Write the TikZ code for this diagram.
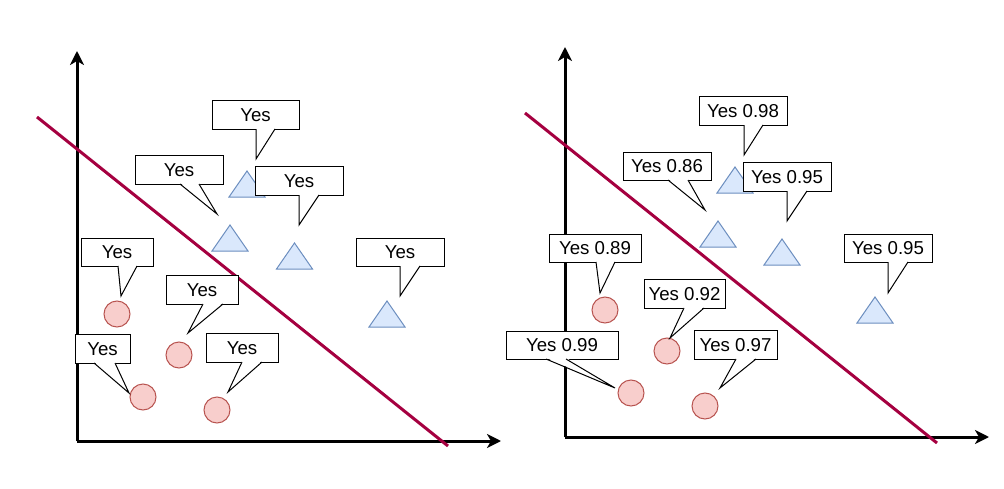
\documentclass[tikz,border=0pt]{standalone}
\usepackage{fontspec}
\setmainfont{Liberation Sans}
\usetikzlibrary{arrows.meta}
\definecolor{crimson}{HTML}{A50040}
\definecolor{circfill}{HTML}{F8CECC}
\definecolor{circline}{HTML}{B85450}
\definecolor{trifill}{HTML}{DAE8FC}
\definecolor{triline}{HTML}{6C8EBF}
\tikzset{
  axisline/.style={line width=2.25pt, -{Stealth[length=10.5pt,width=10.5pt,inset=3pt]}},
  sepline/.style={draw=crimson, line width=2.25pt},
  dot/.style={circle, draw=circline, fill=circfill, minimum size=19.5pt, inner sep=0pt, line width=0.75pt},
  tri/.style={draw=triline, fill=trifill, line width=0.75pt, line join=miter},
  cline/.style={draw=black, fill=white, line width=0.75pt},
  ptrline/.style={draw=black, line width=0.75pt},
  ctext/.style={inner sep=0pt, font=\fontsize{14}{16}\selectfont}
}
\newcommand\callout[9]{%
  \filldraw[cline] (#2,#3) rectangle (#4,#5);
  \fill[white] (#6,#5-1.2) -- (#8) -- (#7,#5-1.2) -- cycle;
  \draw[ptrline] (#6,#5) -- (#8) -- (#7,#5);
  \node[ctext] (#1) at ({(#2+#4)/2},{(#3+#5)/2+0.5}) {#9};
}
\newcommand\tripoint[3]{%
  \draw[tri] (#2-18,#3) -- (#2,#3-26) -- (#2+18,#3) -- cycle;
  \coordinate (#1) at (#2,#3-13);
}
\begin{document}
\begin{tikzpicture}[x=0.75pt,y=-0.75pt]
\useasboundingbox (0,0) rectangle (1004,489);

% ---------- left panel ----------
\coordinate (LO) at (77,441);
\coordinate (LY) at (77,51);
\coordinate (LX) at (501,441);
\draw[axisline] (LO) -- (LY);
\draw[axisline] (LO) -- (LX);

\tripoint{lt1}{247}{197}
\tripoint{lt2}{230}{251}
\tripoint{lt3}{294.5}{269}
\tripoint{lt4}{387}{327}

\node[dot] (lc1) at (117,314) {};
\node[dot] (lc2) at (179,355) {};
\node[dot] (lc3) at (143,397) {};
\node[dot] (lc4) at (217,410) {};

\coordinate (LA) at (37,117);
\coordinate (LB) at (448,446);
\draw[sepline] (LA) -- (LB);

\callout{ly1}{212}{100}{299}{129}{256}{275}{256,159}{Yes}
\callout{ly2}{135}{155}{223}{184}{180}{199}{217,214}{Yes}
\callout{ly3}{255}{166}{343}{195}{299}{319}{299,225}{Yes}
\callout{ly4}{81}{238}{153}{266}{118}{137}{121,296}{Yes}
\callout{ly5}{356}{238}{444}{266}{400}{420}{400,296}{Yes}
\callout{ly6}{166}{275}{238}{304}{203}{223}{188,333}{Yes}
\callout{ly7}{75}{334}{130}{363}{94}{115}{129,393}{Yes}
\callout{ly8}{206}{333}{278}{362}{242}{262}{228,392}{Yes}

% ---------- right panel ----------
\coordinate (RO) at (565,437);
\coordinate (RY) at (565,47);
\coordinate (RX) at (989,437);
\draw[axisline] (RO) -- (RY);
\draw[axisline] (RO) -- (RX);

\tripoint{rt1}{735}{193}
\tripoint{rt2}{718}{247}
\tripoint{rt3}{782}{265}
\tripoint{rt4}{875}{323}

\node[dot] (rc1) at (605,310) {};
\node[dot] (rc2) at (667,351) {};
\node[dot] (rc3) at (631,393) {};
\node[dot] (rc4) at (705,406) {};

\coordinate (RA) at (525,113);
\coordinate (RB) at (937,443);
\draw[sepline] (RA) -- (RB);

\callout{ry1}{699}{96}{787}{125}{744}{763}{744,155}{Yes 0.98}
\callout{ry2}{623}{152}{711}{180}{668}{688}{705,210}{Yes 0.86}
\callout{ry3}{743}{162}{831}{191}{787}{807}{787,221}{Yes 0.95}
\callout{ry4}{549}{234}{641}{262}{596}{615}{600,293}{Yes 0.89}
\callout{ry5}{844}{234}{932}{262}{888}{908}{888,293}{Yes 0.95}
\callout{ry6}{644}{279}{725}{308}{684}{704}{670,338}{Yes 0.92}
\callout{ry7}{506}{331}{618}{359}{546}{566}{615,388}{Yes 0.99}
\callout{ry8}{694}{330}{777}{359}{736}{756}{720,388}{Yes 0.97}
\end{tikzpicture}
\end{document}
